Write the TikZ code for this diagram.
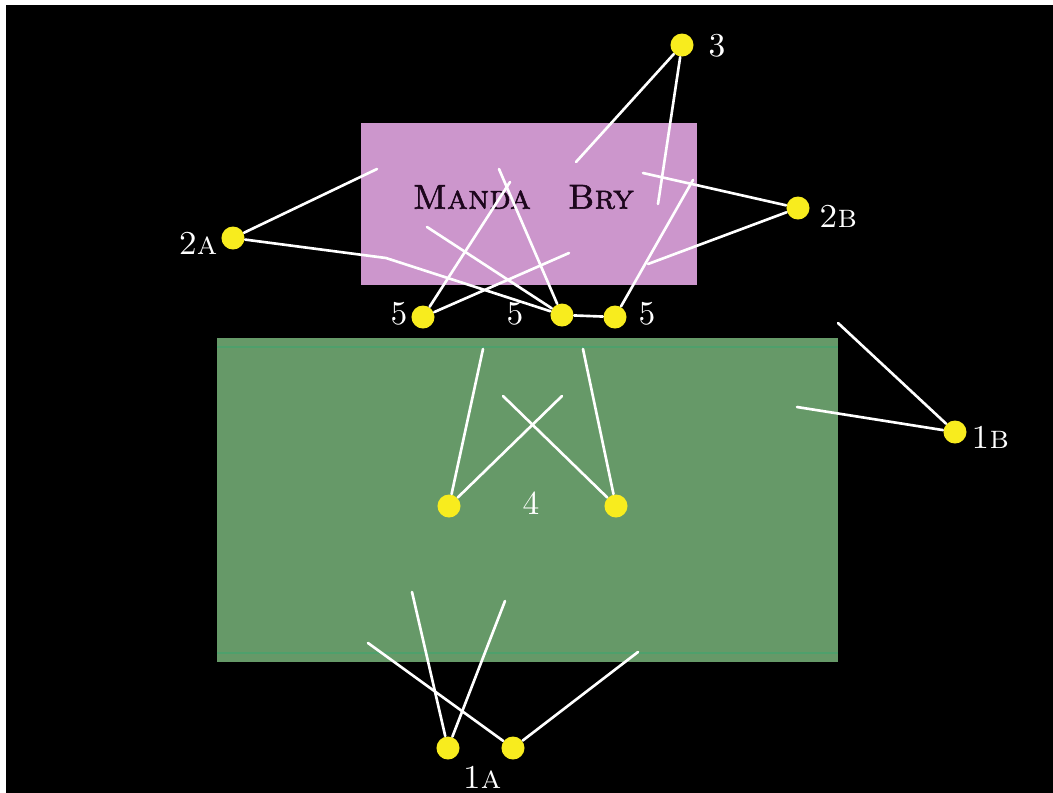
\documentclass[tikz,border=0pt]{standalone}
\usepackage{fontspec}
\usepackage{tikz}
\newfontfamily\mandafont{lmromancaps10-regular.otf}[FakeBold=1.6]
\definecolor{mandapink}{RGB}{204,150,204}
\definecolor{fieldgreen}{RGB}{102,153,104}
\definecolor{stripegreen}{RGB}{78,160,108}
\definecolor{dotyellow}{RGB}{248,236,30}
\definecolor{inkpurple}{RGB}{28,6,28}
\tikzset{
  dot/.style = {circle, fill=dotyellow, minimum size=0.23cm, inner sep=0pt},
  lbl/.style = {text=white, inner sep=0pt, font=\fontsize{9.5}{11}\selectfont},
  title/.style = {text=inkpurple, inner sep=0pt, font=\fontsize{9.8}{11}\mandafont},
  wire/.style = {draw=white, line width=0.75pt, line cap=round}
}
\begin{document}
\begin{tikzpicture}[x=0.01cm, y=-0.01cm]
\useasboundingbox (0,0) rectangle (1053,793);
\fill[white] (0,0) rectangle (1053,793);
\fill[black] (6,5) rectangle (1053,793);

\fill[mandapink] (361,123) rectangle (697,285);
\fill[fieldgreen] (217,338) rectangle (838,662);
\draw[stripegreen, line width=0.45pt] (217,347) -- (838,347);
\draw[stripegreen, line width=0.45pt] (217,653) -- (838,653);

\node[title] (manda) at (472,197) {Manda};
\node[title] (bry) at (601,197) {Bry};

\node[dot] (d3) at (682,45) {};
\node[dot] (d2a) at (233,238) {};
\node[dot] (d2b) at (798,208) {};
\node[dot] (d5a) at (423,317) {};
\node[dot] (d5b) at (562,315) {};
\node[dot] (d5c) at (615,317) {};
\node[dot] (d4a) at (449,506) {};
\node[dot] (d4b) at (616,506) {};
\node[dot] (d1b) at (955,432) {};
\node[dot] (d1aa) at (448,748) {};
\node[dot] (d1ab) at (513,748) {};

\node[lbl] (l3) at (717,46) {3};
\node[lbl] (l2a) at (198,243) {\scshape 2a};
\node[lbl] (l2b) at (838,216) {\scshape 2b};
\node[lbl] (l5a) at (399,314) {5};
\node[lbl] (l5b) at (515,314) {5};
\node[lbl] (l5c) at (647,314) {5};
\node[lbl] (l4) at (531,503) {4};
\node[lbl] (l1b) at (990,437) {\scshape 1b};
\node[lbl] (l1a) at (482,777) {\scshape 1a};

\coordinate (e1) at (576,162);
\coordinate (e2) at (658,204);
\coordinate (e3) at (643,173);
\coordinate (e4) at (648,264);
\coordinate (e5) at (377,169);
\coordinate (k1) at (386,258);
\coordinate (e6) at (427,227);
\coordinate (e7) at (499,169);
\coordinate (e8) at (510,182);
\coordinate (e9) at (569,253);
\coordinate (e10) at (693,180);
\coordinate (e11) at (483,349);
\coordinate (e12) at (562,396);
\coordinate (e13) at (583,349);
\coordinate (e14) at (503,396);
\coordinate (e15) at (838,323);
\coordinate (e16) at (797,407);
\coordinate (e17) at (412,592);
\coordinate (e18) at (505,601);
\coordinate (e19) at (368,643);
\coordinate (e20) at (638,652);

\draw[wire] (d3) -- (e1);
\draw[wire] (d3) -- (e2);
\draw[wire] (d2b) -- (e3);
\draw[wire] (d2b) -- (e4);
\draw[wire] (d2a) -- (e5);
\draw[wire] (d2a) -- (k1) -- (d5b) -- (d5c);
\draw[wire] (e6) -- (d5b);
\draw[wire] (e7) -- (d5b);
\draw[wire] (d5a) -- (e8);
\draw[wire] (d5a) -- (e9);
\draw[wire] (d5c) -- (e10);
\draw[wire] (d4a) -- (e11);
\draw[wire] (d4a) -- (e12);
\draw[wire] (d4b) -- (e13);
\draw[wire] (d4b) -- (e14);
\draw[wire] (d1b) -- (e15);
\draw[wire] (d1b) -- (e16);
\draw[wire] (d1aa) -- (e17);
\draw[wire] (d1aa) -- (e18);
\draw[wire] (d1ab) -- (e19);
\draw[wire] (d1ab) -- (e20);
\end{tikzpicture}
\end{document}
